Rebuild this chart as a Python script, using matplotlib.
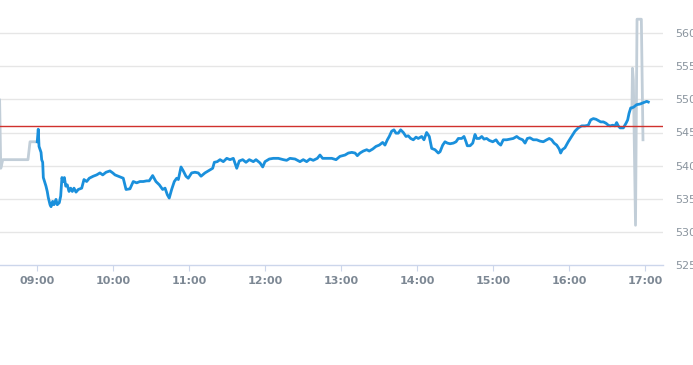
import numpy as np
import matplotlib
matplotlib.use('Agg')
import matplotlib.pyplot as plt

# minutes after 09:00 and price
day_t = [0.2, 1.0, 1.6, 3.2, 3.7, 4.5, 5.0, 6.3, 7.1, 8.1, 8.9, 10.3, 11.1, 12.4, 13.4, 15.0, 16.0, 17.6,
         18.7, 19.7, 20.8, 21.6, 22.7, 23.9, 25.3, 26.6, 27.9, 29.2, 30.8, 32.6, 35.3, 37.1, 39.2, 41.3,
         44.4, 47.1, 49.7, 51.9, 54.5, 57.6, 59.8, 61.6, 64.2, 68.1, 70.3, 73.4, 76.0, 78.7, 81.3, 83.9,
         86.6, 88.6, 91.3, 93.9, 96.6, 99.2, 101.1, 102.9, 104.4, 106.3, 108.4, 110.3, 111.6, 113.7,
         115.5, 117.6, 119.4, 122.1, 124.7, 127.3, 129.5, 132.6, 136.0, 138.7, 140.0, 142.3, 144.5,
         147.1, 149.8, 152.4, 155.0, 157.7, 159.7, 162.4, 165.0, 167.6, 170.8, 172.9, 176.1, 178.2,
         180.0, 183.4, 186.6, 190.5, 194.5, 197.1, 199.7, 203.7, 207.6, 210.2, 212.9, 215.5, 218.1,
         221.3, 223.4, 225.5, 228.7, 232.7, 236.1, 239.2, 243.2, 245.8, 248.5, 251.1, 252.9, 255.0,
         257.6, 260.3, 262.3, 265.0, 267.6, 270.2, 272.9, 274.7, 276.6, 278.1, 280.0, 281.8, 283.4,
         285.2, 287.1, 289.2, 291.3, 293.1, 295.0, 297.1, 299.2, 301.0, 303.7, 305.5, 307.6, 309.7,
         311.6, 314.2, 316.8, 318.2, 320.3, 322.1, 324.0, 326.1, 328.7, 330.8, 332.6, 335.3, 337.1,
         338.7, 339.7, 341.9, 344.0, 345.8, 347.1, 349.2, 351.1, 352.9, 355.0, 357.1, 359.8, 362.4,
         364.2, 366.1, 368.1, 370.8, 373.4, 376.0, 378.7, 380.8, 383.4, 385.3, 387.1, 389.2, 391.8,
         394.5, 397.1, 399.7, 402.4, 404.4, 406.3, 408.2, 410.3, 412.3, 413.4, 414.7, 416.8, 419.4,
         422.1, 424.7, 427.3, 430.0, 432.6, 435.2, 437.1, 439.2, 441.3, 443.1, 445.0, 447.1, 449.2,
         451.0, 452.4, 454.5, 456.3, 457.6, 458.9, 460.3, 462.9, 465.0, 466.3, 467.4, 468.7, 470.8,
         473.4, 476.1, 478.7, 481.3, 482.6]
day_v = [543.6, 545.5, 542.9, 542.0, 540.9, 540.5, 538.2, 537.4, 536.9, 536.1, 535.2, 534.1, 533.8, 534.6,
         534.1, 534.9, 534.1, 534.4, 535.4, 538.2, 537.6, 538.2, 536.9, 537.1, 536.1, 536.6, 536.1,
         536.6, 536.0, 536.4, 536.6, 537.9, 537.6, 538.1, 538.4, 538.6, 538.9, 538.6, 539.0, 539.2,
         538.9, 538.6, 538.4, 538.1, 536.4, 536.5, 537.6, 537.4, 537.6, 537.6, 537.7, 537.7, 538.5,
         537.6, 537.1, 536.4, 536.6, 535.6, 535.1, 536.4, 537.6, 538.1, 537.9, 539.8, 539.2, 538.4,
         538.1, 538.9, 539.0, 538.9, 538.4, 538.9, 539.3, 539.6, 540.5, 540.6, 540.9, 540.6, 541.1,
         540.9, 541.1, 539.6, 540.7, 540.9, 540.5, 540.9, 540.6, 540.9, 540.4, 539.8, 540.6, 541.0,
         541.1, 541.1, 540.9, 540.8, 541.1, 541.0, 540.6, 540.9, 540.6, 541.0, 540.8, 541.1, 541.6,
         541.1, 541.1, 541.1, 540.9, 541.4, 541.6, 541.9, 542.0, 541.9, 541.5, 541.9, 542.2, 542.4,
         542.2, 542.5, 542.9, 543.1, 543.5, 543.1, 543.9, 544.4, 545.2, 545.4, 544.9, 544.9, 545.4,
         545.0, 544.4, 544.5, 544.1, 543.9, 544.3, 544.1, 544.4, 543.9, 545.0, 544.4, 542.6, 542.4,
         541.9, 542.1, 543.1, 543.6, 543.4, 543.3, 543.4, 543.6, 544.1, 544.1, 544.4, 543.6, 543.0,
         543.0, 543.4, 544.7, 544.1, 544.1, 544.4, 544.0, 544.1, 543.8, 543.6, 543.9, 543.4, 543.1,
         543.9, 543.9, 544.0, 544.1, 544.4, 544.1, 543.9, 543.4, 544.1, 544.2, 543.9, 543.9, 543.7,
         543.6, 543.9, 544.1, 543.9, 543.4, 543.1, 542.5, 541.9, 542.4, 542.7, 543.6, 544.4, 545.2,
         545.7, 546.0, 546.0, 546.1, 546.9, 547.1, 547.0, 546.8, 546.6, 546.6, 546.4, 546.1, 546.0,
         546.1, 546.0, 546.5, 546.0, 545.7, 545.7, 546.4, 546.9, 547.9, 548.7, 548.8, 549.2, 549.3,
         549.5, 549.7, 549.6]

# pre-open and closing auction (grey)
pre_t = [-29.5, -28.6, -27.0, -7.1, -5.5, -0.8, 0.2]
pre_v = [549.9, 539.6, 540.9, 540.9, 543.6, 543.6, 543.6]
post_t = [469.7, 470.1, 470.8, 472.5, 473.7, 477.1, 478.4]
post_v = [548.7, 554.7, 552.9, 531.0, 562.1, 562.1, 543.9]

prev_close = 546.0
hour_labels = ['09:00', '10:00', '11:00', '12:00', '13:00', '14:00', '15:00', '16:00', '17:00']
y_ticks = [525, 530, 535, 540, 545, 550, 555, 560]

fig = plt.figure(figsize=(6.93, 3.65), dpi=100)
ax = fig.add_axes([0, 1 - 265 / 365, 663 / 693, 265 / 365])

ax.set_xlim(-29.2, 494.2)
ax.set_ylim(525, 565)

for y in y_ticks[1:]:
    ax.axhline(y, color='#e6e6e6', lw=1, zorder=0)

ax.plot(pre_t, pre_v, color='#c2ced8', lw=2, zorder=2, solid_joinstyle='round')
ax.plot(post_t, post_v, color='#c2ced8', lw=2, zorder=2, solid_joinstyle='round')
ax.plot(day_t, day_v, color='#1a90dc', lw=2, zorder=3, solid_joinstyle='round')
ax.axhline(prev_close, color='#d0312d', lw=1, zorder=4)

for s in ['top', 'left', 'right']:
    ax.spines[s].set_visible(False)
ax.spines['bottom'].set_color('#ccd6eb')
ax.spines['bottom'].set_linewidth(1)

ax.set_xticks(np.arange(len(hour_labels)) * 60)
ax.set_xticklabels(hour_labels, fontsize=8, color='#7d8894', fontweight='bold')
ax.tick_params(axis='x', length=4, color='#ccd6eb', pad=4)

ax.yaxis.tick_right()
ax.set_yticks(y_ticks)
ax.set_yticklabels([str(v) for v in y_ticks], fontsize=8, color='#8a949e')
ax.tick_params(axis='y', length=0, pad=9)

fig.savefig('out.png', dpi=100, facecolor='white')
